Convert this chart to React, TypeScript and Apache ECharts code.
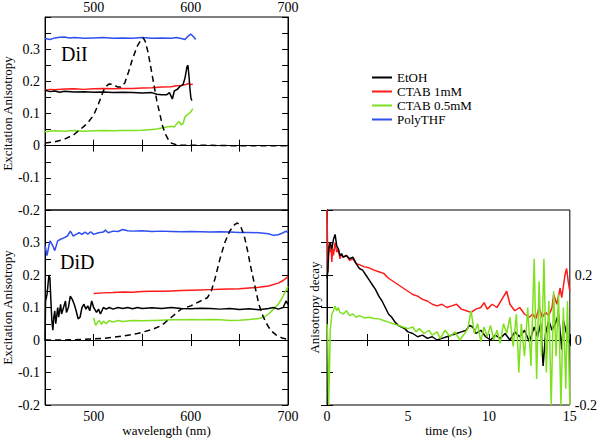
import React, { useEffect, useRef } from "react";
import * as echarts from "echarts";

// ---------- DiI panel (top) ----------
const diiThfX = [450, 455, 460, 465, 470, 475, 480, 490, 500, 510, 520, 530, 540, 550, 560, 570, 580, 585, 590, 594, 597, 600, 603, 605];
const diiThfY = [0.333, 0.330, 0.335, 0.337, 0.338, 0.335, 0.336, 0.334, 0.335, 0.336, 0.334, 0.335, 0.334, 0.336, 0.334, 0.335, 0.334, 0.336, 0.333, 0.330, 0.340, 0.347, 0.338, 0.330];

const diiCtab1X = [450, 455, 460, 470, 480, 490, 500, 510, 520, 530, 540, 550, 560, 570, 580, 585, 590, 595, 598, 600, 602];
const diiCtab1Y = [0.172, 0.175, 0.174, 0.176, 0.177, 0.175, 0.177, 0.178, 0.177, 0.178, 0.178, 0.179, 0.180, 0.182, 0.183, 0.186, 0.187, 0.190, 0.193, 0.190, 0.191];

const diiEtohX = [450, 455, 460, 465, 470, 480, 490, 500, 510, 520, 530, 540, 550, 560, 565, 570, 575, 578, 581, 583, 586, 589, 592, 594, 596, 597, 598, 599, 600, 601];
const diiEtohY = [0.172, 0.168, 0.170, 0.166, 0.169, 0.167, 0.168, 0.166, 0.167, 0.165, 0.166, 0.165, 0.164, 0.165, 0.160, 0.158, 0.158, 0.165, 0.145, 0.170, 0.175, 0.185, 0.190, 0.210, 0.245, 0.250, 0.220, 0.180, 0.150, 0.140];

const diiCtab05X = [450, 455, 460, 470, 480, 490, 500, 510, 520, 530, 540, 550, 560, 565, 570, 575, 580, 583, 586, 588, 590, 592, 594, 596, 598, 600, 602];
const diiCtab05Y = [0.043, 0.045, 0.046, 0.045, 0.047, 0.045, 0.046, 0.047, 0.046, 0.047, 0.047, 0.048, 0.050, 0.052, 0.055, 0.058, 0.060, 0.058, 0.070, 0.075, 0.065, 0.068, 0.090, 0.095, 0.100, 0.105, 0.115];

const diiAbsX = [450, 460, 470, 480, 490, 495, 500, 505, 510, 513, 516, 520, 525, 528, 532, 536, 540, 545, 549, 551, 553, 556, 559, 562, 565, 568, 571, 574, 577, 580, 585, 590, 600, 620, 640, 660, 680, 700];
const diiAbsY = [0.008, 0.012, 0.020, 0.035, 0.060, 0.075, 0.095, 0.130, 0.170, 0.185, 0.192, 0.190, 0.182, 0.182, 0.195, 0.230, 0.270, 0.310, 0.330, 0.335, 0.325, 0.290, 0.240, 0.190, 0.140, 0.100, 0.060, 0.035, 0.018, 0.008, 0.003, 0.002, 0.001, 0.001, 0.000, 0.000, 0.000, 0.000];

// ---------- DiD panel (bottom) ----------
const didThfX = [450, 452, 455, 458, 460, 463, 466, 470, 473, 476, 479, 482, 485, 488, 491, 494, 497, 500, 505, 510, 512, 515, 520, 525, 530, 535, 540, 550, 560, 570, 580, 590, 600, 610, 620, 630, 640, 650, 660, 670, 680, 685, 690, 695, 698, 700];
const didThfY = [0.290, 0.260, 0.305, 0.290, 0.275, 0.305, 0.310, 0.315, 0.320, 0.335, 0.320, 0.325, 0.330, 0.325, 0.332, 0.326, 0.333, 0.325, 0.330, 0.332, 0.338, 0.330, 0.335, 0.334, 0.340, 0.336, 0.335, 0.336, 0.334, 0.335, 0.334, 0.333, 0.334, 0.333, 0.332, 0.333, 0.332, 0.331, 0.331, 0.330, 0.327, 0.322, 0.324, 0.330, 0.335, 0.330];

const didCtab1X = [500, 510, 520, 530, 540, 550, 560, 570, 580, 590, 600, 610, 620, 630, 640, 650, 660, 670, 680, 690, 695, 700];
const didCtab1Y = [0.143, 0.145, 0.146, 0.148, 0.147, 0.149, 0.150, 0.150, 0.151, 0.152, 0.153, 0.154, 0.155, 0.156, 0.157, 0.158, 0.160, 0.162, 0.166, 0.175, 0.183, 0.195];

const didEtohX = [450, 450.5, 452, 454, 455, 456, 457, 458, 459, 460, 461, 463, 464, 466, 467, 469, 471, 472, 474, 476, 478, 480, 482, 484, 486, 488, 490, 492, 494, 496, 498, 500, 503, 505, 507, 510, 513, 516, 520, 525, 530, 535, 540, 545, 550, 560, 570, 580, 590, 600, 610, 620, 630, 640, 650, 660, 670, 680, 685, 690, 695, 698, 700];
const didEtohY = [0.000, 0.120, 0.140, 0.200, 0.190, 0.120, 0.060, 0.030, 0.070, 0.090, 0.050, 0.100, 0.070, 0.110, 0.080, 0.100, 0.120, 0.085, 0.100, 0.135, 0.125, 0.110, 0.090, 0.065, 0.070, 0.100, 0.110, 0.095, 0.105, 0.090, 0.120, 0.100, 0.085, 0.095, 0.080, 0.100, 0.095, 0.100, 0.095, 0.100, 0.097, 0.100, 0.096, 0.100, 0.097, 0.099, 0.097, 0.100, 0.097, 0.096, 0.098, 0.097, 0.095, 0.097, 0.094, 0.096, 0.093, 0.097, 0.100, 0.095, 0.100, 0.120, 0.110];

const didCtab05X = [500, 502, 504, 506, 508, 510, 513, 516, 520, 525, 530, 540, 550, 560, 570, 580, 590, 600, 610, 620, 630, 640, 650, 660, 670, 675, 680, 685, 690, 695, 700];
const didCtab05Y = [0.068, 0.045, 0.055, 0.060, 0.048, 0.058, 0.050, 0.060, 0.055, 0.060, 0.057, 0.060, 0.059, 0.060, 0.061, 0.062, 0.062, 0.063, 0.062, 0.063, 0.062, 0.060, 0.061, 0.063, 0.066, 0.070, 0.080, 0.095, 0.110, 0.135, 0.165];

const didAbsX = [450, 470, 490, 510, 530, 545, 560, 570, 580, 590, 600, 610, 617, 621, 625, 630, 635, 640, 645, 648, 651, 655, 658, 662, 666, 670, 674, 678, 682, 688, 694, 700];
const didAbsY = [0.000, 0.000, 0.002, 0.005, 0.012, 0.020, 0.032, 0.045, 0.070, 0.095, 0.105, 0.120, 0.130, 0.150, 0.190, 0.250, 0.300, 0.335, 0.355, 0.360, 0.352, 0.320, 0.280, 0.220, 0.165, 0.110, 0.075, 0.050, 0.030, 0.015, 0.006, 0.002];

// ---------- Anisotropy decay panel ----------
const decCtab1T = [0, 0.03, 0.06, 0.1, 0.15, 0.2, 0.25, 0.3, 0.35, 0.4, 0.5, 0.6, 0.7, 0.8, 0.9, 1.0, 1.2, 1.4, 1.6, 1.8, 2.0, 2.3, 2.6, 2.9, 3.2, 3.5, 3.8, 4.1, 4.4, 4.7, 5.0, 5.3, 5.6, 5.9, 6.2, 6.5, 6.8, 7.1, 7.4, 7.7, 8.0, 8.3, 8.6, 8.9, 9.2, 9.5, 9.7, 9.9, 10.2, 10.5, 10.8, 11.1, 11.3, 11.6, 11.9, 12.2, 12.5, 12.7, 12.9, 13.1, 13.3, 13.5, 13.7, 13.9, 14.0, 14.2, 14.4, 14.5, 14.7, 14.8, 14.9, 15.0];
const decCtab1Y = [0.40, 0.30, 0.21, 0.26, 0.30, 0.27, 0.29, 0.24, 0.28, 0.26, 0.30, 0.27, 0.28, 0.25, 0.265, 0.255, 0.26, 0.245, 0.25, 0.235, 0.232, 0.225, 0.222, 0.215, 0.21, 0.205, 0.19, 0.18, 0.17, 0.16, 0.15, 0.14, 0.135, 0.125, 0.12, 0.11, 0.105, 0.11, 0.10, 0.105, 0.11, 0.095, 0.09, 0.085, 0.095, 0.10, 0.115, 0.095, 0.11, 0.10, 0.125, 0.15, 0.11, 0.09, 0.10, 0.08, 0.07, 0.08, 0.065, 0.10, 0.07, 0.085, 0.075, 0.10, 0.14, 0.11, 0.16, 0.13, 0.20, 0.22, 0.18, 0.15];

const decEtohT = [0, 0.05, 0.1, 0.2, 0.3, 0.4, 0.5, 0.6, 0.7, 0.8, 0.9, 1.0, 1.2, 1.4, 1.6, 1.8, 2.0, 2.2, 2.4, 2.6, 2.8, 3.0, 3.2, 3.4, 3.6, 3.8, 4.0, 4.2, 4.4, 4.6, 4.8, 5.0, 5.3, 5.6, 5.9, 6.2, 6.5, 6.8, 7.1, 7.4, 7.7, 8.0, 8.3, 8.6, 8.8, 9.0, 9.2, 9.5, 9.8, 10.1, 10.4, 10.7, 11.0, 11.3, 11.6, 11.9, 12.2, 12.5, 12.8, 13.0, 13.2, 13.35, 13.5, 13.7, 13.9, 14.1, 14.3, 14.5, 14.6, 14.8, 15.0];
const decEtohY = [0.19, 0.21, 0.28, 0.30, 0.28, 0.31, 0.325, 0.29, 0.28, 0.26, 0.265, 0.255, 0.26, 0.25, 0.255, 0.235, 0.22, 0.215, 0.20, 0.185, 0.17, 0.155, 0.135, 0.12, 0.10, 0.08, 0.07, 0.055, 0.045, 0.04, 0.035, 0.025, 0.02, 0.01, 0.015, 0.005, 0.01, 0.0, 0.005, 0.01, 0.015, 0.02, 0.025, 0.03, 0.045, 0.04, 0.02, 0.03, 0.01, 0.0, 0.015, 0.005, 0.02, 0.0, 0.025, 0.01, 0.03, -0.005, 0.04, 0.01, 0.05, -0.08, 0.02, 0.06, 0.03, 0.05, 0.08, -0.03, 0.06, 0.02, -0.01];

const decCtab05T = [0, 0.05, 0.1, 0.15, 0.2, 0.3, 0.4, 0.5, 0.6, 0.7, 0.8, 1.0, 1.2, 1.4, 1.6, 1.8, 2.0, 2.3, 2.6, 2.9, 3.2, 3.5, 3.8, 4.1, 4.4, 4.7, 5.0, 5.3, 5.5, 5.7, 6.0, 6.3, 6.5, 6.8, 7.0, 7.3, 7.6, 7.9, 8.2, 8.5, 8.7, 8.9, 9.1, 9.3, 9.5, 9.7, 9.9, 10.1, 10.3, 10.5, 10.7, 10.9, 11.1, 11.3, 11.5, 11.7, 11.85, 12.0, 12.2, 12.4, 12.6, 12.8, 12.95, 13.1, 13.25, 13.4, 13.55, 13.7, 13.85, 14.0, 14.15, 14.3, 14.45, 14.6, 14.75, 14.85, 15.0];
const decCtab05Y = [0.05, 0.0, -0.2, -0.1, 0.03, 0.08, 0.09, 0.105, 0.09, 0.10, 0.085, 0.08, 0.09, 0.075, 0.08, 0.07, 0.075, 0.068, 0.07, 0.066, 0.065, 0.06, 0.055, 0.05, 0.045, 0.04, 0.035, 0.04, 0.025, 0.035, 0.02, 0.03, 0.015, 0.025, 0.005, 0.03, 0.01, 0.025, 0.0, 0.02, 0.035, 0.09, 0.02, 0.05, -0.005, 0.04, 0.01, 0.045, 0.0, 0.03, -0.01, 0.05, 0.02, 0.07, -0.02, 0.08, -0.1, 0.05, -0.05, 0.10, -0.08, 0.25, -0.12, 0.18, -0.05, 0.25, -0.10, 0.12, -0.20, 0.15, -0.05, 0.14, -0.20, 0.10, -0.15, 0.12, -0.20];

const legendNames = ["EtOH", "CTAB 1mM", "CTAB 0.5mM", "PolyTHF"];

const BLACK = "#000000";
const RED = "#ff1a1a";
const GREEN = "#7ee01e";
const BLUE = "#2f4ff0";
const FONT = "'Liberation Serif', 'Times New Roman', serif";

const zip = (xs: number[], ys: number[]) => xs.map((x, i) => [x, ys[i]]);

const wlLabel = (v: number) => (Math.round(v) % 100 === 0 && v > 450 ? String(Math.round(v)) : "");
const anisoLabel = (v: number) => {
  const k = Math.round(v * 100);
  if (k % 10 !== 0 || k > 35) return "";
  return String(k / 100);
};
const decayLabel = (v: number) => {
  const k = Math.round(v * 10);
  if (k % 2 !== 0 || k > 3) return "";
  return String(k / 10);
};
const timeLabel = (v: number) => (Math.abs(v % 5) < 1e-6 ? String(Math.round(v)) : "");

const tick = { show: true, inside: true, length: 6, lineStyle: { color: "#000", width: 1 } };
const line = { show: true, lineStyle: { color: "#000", width: 1 } };
const lbl = (show: boolean, formatter: any, extra: any = {}) => ({
  show,
  formatter,
  color: "#000",
  fontFamily: FONT,
  fontSize: 14,
  showMinLabel: true,
  showMaxLabel: true,
  ...extra,
});

function mkX(gridIndex: number, position: string, min: number, max: number, interval: number, labels: boolean, formatter: any, name?: string) {
  return {
    type: "value",
    gridIndex,
    position,
    min,
    max,
    interval,
    axisLine: line,
    axisTick: tick,
    splitLine: { show: false },
    axisLabel: lbl(labels, formatter, { margin: position === "top" ? 3 : 4 }),
    name: name || "",
    nameLocation: "middle",
    nameGap: 19,
    nameTextStyle: { color: "#000", fontFamily: FONT, fontSize: 13 },
  };
}
function mkY(gridIndex: number, position: string, interval: number, labels: boolean, formatter: any, name?: string, nameGap = 30) {
  return {
    type: "value",
    gridIndex,
    position,
    min: -0.2,
    max: 0.4,
    interval,
    axisLine: line,
    axisTick: tick,
    splitLine: { show: false },
    axisLabel: lbl(labels, formatter, { margin: 5 }),
    name: name || "",
    nameLocation: "middle",
    nameGap,
    nameRotate: 90,
    nameTextStyle: { color: "#000", fontFamily: FONT, fontSize: 13 },
  };
}

function ser(name: string, xs: number[], ys: number[], color: string, xi: number, yi: number, dashed = false) {
  return {
    type: "line",
    name,
    xAxisIndex: xi,
    yAxisIndex: yi,
    data: zip(xs, ys),
    symbol: "none",
    showSymbol: false,
    clip: true,
    lineStyle: { color, width: 1.5, type: dashed ? [6, 4] : "solid" },
    itemStyle: { color },
    z: dashed ? 3 : 2,
  };
}

export default function App() {
  const ref = useRef<HTMLDivElement>(null);
  useEffect(() => {
    if (!ref.current) return;
    document.body.style.margin = "0";
    const chart = echarts.init(ref.current, null, { renderer: "svg" });
    const gridBase = { show: true, borderColor: "#000", borderWidth: 1, backgroundColor: "transparent", containLabel: false };
    chart.setOption({
      animation: false,
      backgroundColor: "#fff",
      textStyle: { fontFamily: FONT },
      grid: [
        { ...gridBase, left: 44, top: 17, width: 244, height: 193 },
        { ...gridBase, left: 44, top: 210, width: 244, height: 195 },
        { ...gridBase, left: 327, top: 210, width: 245, height: 195 },
      ],
      xAxis: [
        mkX(0, "top", 450, 700, 50, true, wlLabel),
        mkX(0, "bottom", 450, 700, 50, false, wlLabel),
        mkX(1, "bottom", 450, 700, 50, true, wlLabel, "wavelength (nm)"),
        mkX(1, "top", 450, 700, 50, false, wlLabel),
        mkX(2, "bottom", 0, 15, 2.5, true, timeLabel, "time (ns)"),
        mkX(2, "top", 0, 15, 2.5, false, timeLabel),
      ],
      yAxis: [
        mkY(0, "left", 0.05, true, anisoLabel, "Excitation Anisotropy", 30),
        mkY(0, "right", 0.05, false, anisoLabel),
        mkY(1, "left", 0.05, true, anisoLabel, "Excitation Anisotropy", 30),
        mkY(1, "right", 0.05, false, anisoLabel),
        mkY(2, "left", 0.1, false, decayLabel, "Anisotropy decay", 6),
        mkY(2, "right", 0.1, true, decayLabel),
      ],
      legend: {
        data: legendNames,
        orient: "vertical",
        left: 367,
        top: 66,
        icon: "rect",
        itemWidth: 20,
        itemHeight: 2,
        itemGap: 1,
        selectedMode: false,
        textStyle: { color: "#000", fontFamily: FONT, fontSize: 13 },
      },
      graphic: [
        { type: "text", left: 61, top: 44, style: { text: "DiI", fontFamily: FONT, fontSize: 20, fill: "#000" } },
        { type: "text", left: 60, top: 252, style: { text: "DiD", fontFamily: FONT, fontSize: 20, fill: "#000" } },
      ],
      series: [
        ser("PolyTHF", diiThfX, diiThfY, BLUE, 0, 0),
        ser("CTAB 1mM", diiCtab1X, diiCtab1Y, RED, 0, 0),
        ser("CTAB 0.5mM", diiCtab05X, diiCtab05Y, GREEN, 0, 0),
        ser("EtOH", diiEtohX, diiEtohY, BLACK, 0, 0),
        ser("DiI absorption", diiAbsX, diiAbsY, BLACK, 0, 0, true),
        ser("PolyTHF", didThfX, didThfY, BLUE, 2, 2),
        ser("CTAB 1mM", didCtab1X, didCtab1Y, RED, 2, 2),
        ser("CTAB 0.5mM", didCtab05X, didCtab05Y, GREEN, 2, 2),
        ser("EtOH", didEtohX, didEtohY, BLACK, 2, 2),
        ser("DiD absorption", didAbsX, didAbsY, BLACK, 2, 2, true),
        ser("CTAB 1mM", decCtab1T, decCtab1Y, RED, 4, 4),
        ser("EtOH", decEtohT, decEtohY, BLACK, 4, 4),
        ser("CTAB 0.5mM", decCtab05T, decCtab05Y, GREEN, 4, 4),
      ],
    });
    return () => chart.dispose();
  }, []);
  return <div ref={ref} style={{ width: 600, height: 440 }} />;
}
